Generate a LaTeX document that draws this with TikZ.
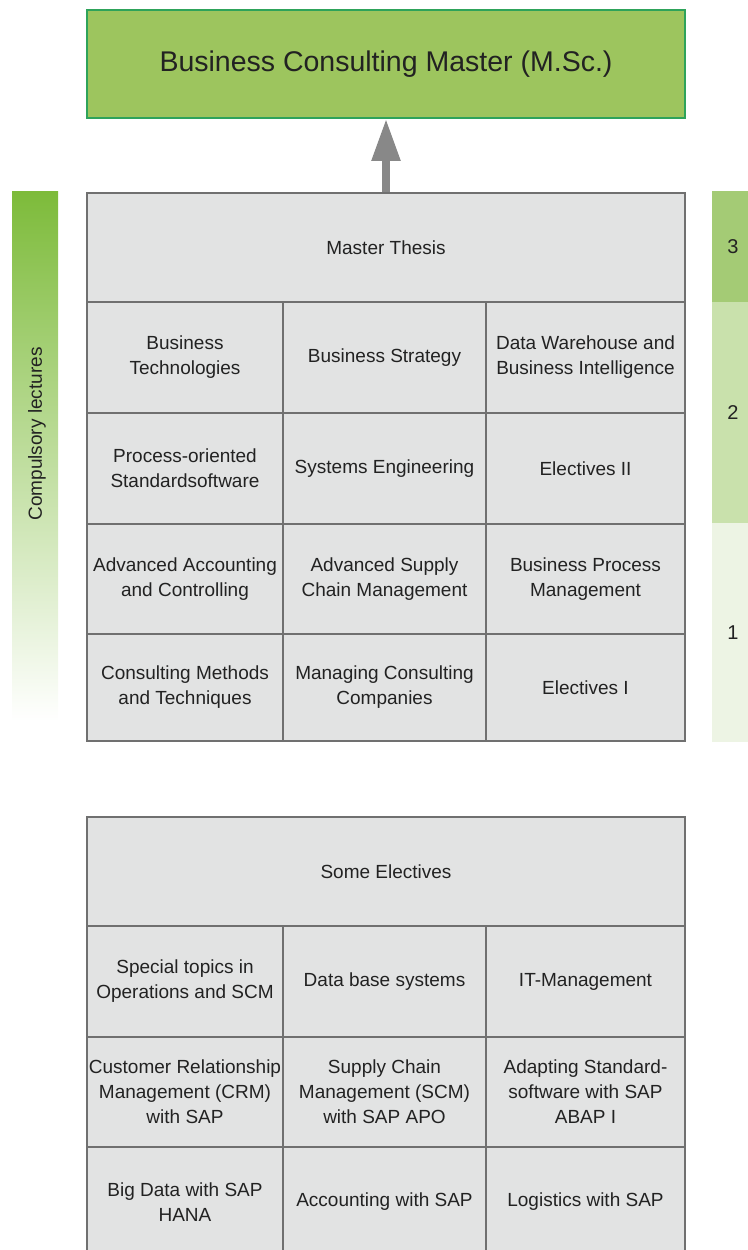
\documentclass[tikz,border=0pt]{standalone}
\usepackage{fontspec}
\setmainfont{Liberation Sans}
\usetikzlibrary{positioning,%
	arrows.meta,%
	shapes%
}

\definecolor{cellgray}{HTML}{E2E3E3}
\definecolor{gridgray}{HTML}{707070}
\definecolor{titlegreen}{HTML}{9DC55E}
\definecolor{titleborder}{HTML}{2EA35A}
\definecolor{bargreen}{HTML}{7DBB3A}
\definecolor{yearthree}{HTML}{A4CB75}
\definecolor{yeartwo}{HTML}{C9E1AC}
\definecolor{yearone}{HTML}{EDF4E4}
\definecolor{arrowgray}{HTML}{888888}
\definecolor{textgray}{HTML}{222222}

\tikzset{
	cell/.style={draw=gridgray, fill=cellgray, line width=1.5pt, align=center,
		inner sep=0pt, minimum height=#1, text=textgray,
		font=\fontsize{19}{25}\selectfont},
	cell/.default=110pt,
	colA/.style={minimum width=196pt},
	colB/.style={minimum width=203pt},
	colC/.style={minimum width=199pt},
	wide/.style={minimum width=598pt},
	year/.style={minimum width=42pt, inner sep=0pt, text=textgray,
		font=\fontsize{20}{25}\selectfont}
}

\begin{document}
\begin{tikzpicture}[x=1pt, y=-1pt]
	\useasboundingbox (0,0) rectangle (747,1250);
	
	% title
	\node[draw=titleborder, fill=titlegreen, line width=1.5pt, minimum width=598pt,
		minimum height=108pt, text=textgray, font=\fontsize{28.5}{34}\selectfont]
		(MSc) at (386,64) {Business Consulting Master (M.Sc.)};
	
	% side bars
	\node[shade, top color=bargreen, bottom color=white, minimum width=46pt,
		minimum height=530pt, inner sep=0pt] (CB) at (35,456) {};
	\node[rotate=90, text=textgray, font=\fontsize{19}{23}\selectfont]
		(CL) at (37,434) {Compulsory lectures};
	
	\begin{scope}[every node/.style={year}]
	\node[fill=yearthree, minimum height=111pt] (Y3) at (733,246.5) {3};
	\node[fill=yeartwo, minimum height=221pt] (Y2) at (733,412.5) {2};
	\node[fill=yearone, minimum height=219pt] (Y1) at (733,632.5) {1};
	\end{scope}
	
	% compulsory part
	\node[cell=109pt, wide] (MT) at (386,247.5) {Master Thesis};
	\begin{scope}[every node/.style={cell=111pt}]
	\node[colA] (BT) at (185,357.5) {Business\\Technologies};
	\node[colB] (BS) at (384.5,357.5) {Business Strategy};
	\node[colC] (DW) at (585.5,357.5) {Data Warehouse and\\Business Intelligence};
	\node[colA] (PS) at (185,468.5) {Process-oriented\\Standardsoftware};
	\node[colB] (SE) at (384.5,468.5) {Systems Engineering};
	\node[colC] (E2) at (585.5,468.5) {Electives II};
	\end{scope}
	\begin{scope}[every node/.style={cell=110pt}]
	\node[colA] (AC) at (185,579) {Advanced Accounting\\and Controlling};
	\node[colB] (AS) at (384.5,579) {Advanced Supply\\Chain Management};
	\node[colC] (BP) at (585.5,579) {Business Process\\Management};
	\end{scope}
	\begin{scope}[every node/.style={cell=107pt}]
	\node[colA] (CM) at (185,687.5) {Consulting Methods\\and Techniques};
	\node[colB] (MC) at (384.5,687.5) {Managing Consulting\\Companies};
	\node[colC] (E1) at (585.5,687.5) {Electives I};
	\end{scope}
	
	\draw[arrowgray, line width=8pt,
		-{Triangle[width=27pt, length=42pt]}] (MT.north) -- (MSc.south);
	
	% electives
	\node[cell=109pt, wide] (SOE) at (386,871.5) {Some Electives};
	\begin{scope}[every node/.style={cell=111pt}]
	\node[colA] (ST) at (185,981.5) {Special topics in\\Operations and SCM};
	\node[colB] (DB) at (384.5,981.5) {Data base systems};
	\node[colC] (IT) at (585.5,981.5) {IT-Management};
	\end{scope}
	\begin{scope}[every node/.style={cell=110pt}]
	\node[colA] (CRM) at (185,1092) {Customer Relationship\\Management (CRM)\\with SAP};
	\node[colB] (SCM) at (384.5,1092) {Supply Chain\\Management (SCM)\\with SAP APO};
	\node[colC] (ABAP) at (585.5,1092) {Adapting Standard-\\software with SAP\\ABAP I};
	\node[colA] (HANA) at (185,1202) {Big Data with SAP\\HANA};
	\node[colB] (ACC) at (384.5,1202) {Accounting with SAP};
	\node[colC] (LOG) at (585.5,1202) {Logistics with SAP};
	\end{scope}
\end{tikzpicture}
\end{document}
